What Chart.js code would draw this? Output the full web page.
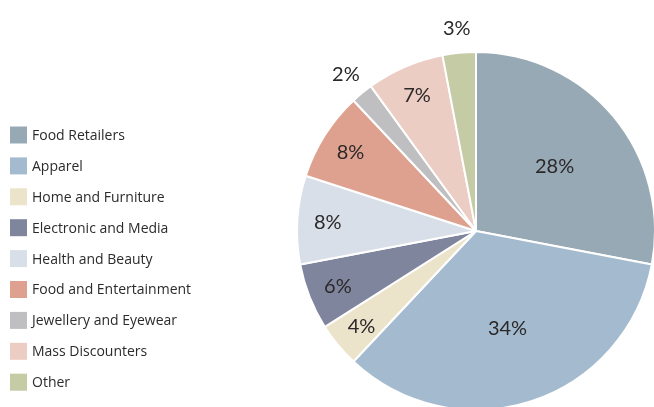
<!DOCTYPE html>
<html>
<head>
<meta charset="utf-8">
<script src="https://cdn.jsdelivr.net/npm/chart.js@4/dist/chart.umd.min.js"></script>
<style>
  html, body { margin: 0; padding: 0; background: #fff; overflow: hidden; }
  #wrap { position: absolute; left: 0; top: 0; width: 660px; height: 462px; }
</style>
</head>
<body>
<div id="wrap"><canvas id="pie"></canvas></div>
<script>
const categories = ["Food Retailers", "Apparel", "Home and Furniture", "Electronic and Media",
    "Health and Beauty", "Food and Entertainment", "Jewellery and Eyewear", "Mass Discounters", "Other"];
const shares = [28, 34, 4, 6, 8, 8, 2, 7, 3];
const colors = ["#97a9b4", "#a4bbcf", "#ece3cb", "#7f859c", "#d8dfe8", "#dfa18f", "#bfbfc1", "#ebcdc3", "#c4cba5"];

const labelFont = "20px Lato, sans-serif";
const legendFont = "14px 'Open Sans', sans-serif";

// percent labels + legend on the left
const extras = {
    id: "extras",
    afterDraw(chart) {
        const ctx = chart.ctx;
        const arcs = chart.getDatasetMeta(0).data;
        ctx.save();
        ctx.fillStyle = "#2b2829";
        ctx.font = labelFont;
        ctx.textAlign = "center";
        ctx.textBaseline = "middle";
        arcs.forEach(function (arc, i) {
            const v = shares[i];
            const mid = (arc.startAngle + arc.endAngle) / 2;
            let f = 0.57;
            if (v < 20) f = 0.83;
            if (v < 4) f = 1.14;
            const r = arc.outerRadius * f;
            ctx.fillText(v + "%", arc.x + Math.cos(mid) * r, arc.y + Math.sin(mid) * r + 1);
        });

        ctx.font = legendFont;
        ctx.textAlign = "left";
        categories.forEach(function (name, i) {
            const y = 135 + i * 30.9;
            ctx.fillStyle = colors[i];
            ctx.fillRect(10, y - 8.5, 17, 17);
            ctx.fillStyle = "#2b2b2b";
            ctx.fillText(name, 32, y + 1);
        });
        ctx.restore();
    }
};

let c = document.getElementById("pie").getContext("2d");
var pieChart = new Chart(c, {
    type: "pie",
    data: {
        labels: categories,
        datasets: [
            {
                data: shares,
                backgroundColor: colors,
                borderColor: "#ffffff",
                borderWidth: 2,
            },
        ],
    },
    options: {
        responsive: true,
        maintainAspectRatio: false,
        animation: false,
        layout: { padding: { left: 296, right: 4, top: 51, bottom: 51 } },
        plugins: {
            legend: { display: false },
            tooltip: { enabled: false },
        },
    },
    plugins: [extras],
});
</script>
</body>
</html>
